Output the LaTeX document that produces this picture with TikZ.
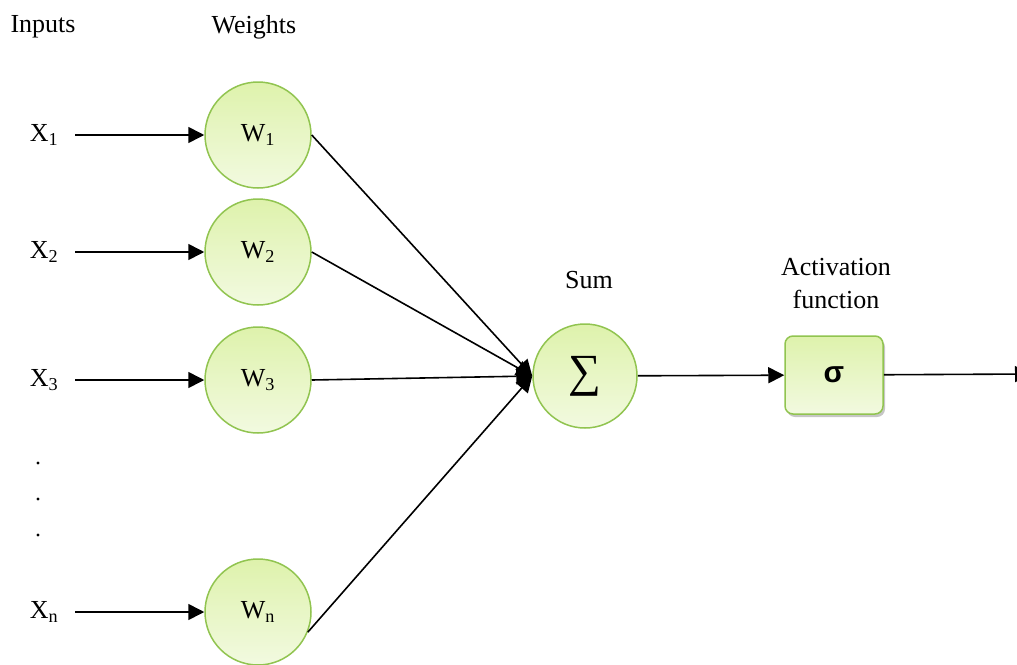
\documentclass[tikz,border=0pt]{standalone}
\usepackage{fontspec}
\setmainfont{Liberation Serif}
\newfontfamily\sigmafont{Liberation Sans}
\usetikzlibrary{arrows.meta,shadows}

\definecolor{wborder}{RGB}{145,196,80}
\definecolor{wtop}{RGB}{222,242,172}
\definecolor{wbottom}{RGB}{242,250,224}

\tikzset{
  weight/.style={circle, draw=wborder, line width=1.5pt, top color=wtop, bottom color=wbottom,
    minimum size=106pt, inner sep=0pt},
  actbox/.style={rectangle, rounded corners=8pt, draw=wborder, line width=1.5pt, top color=wtop,
    bottom color=wbottom, minimum width=98pt, minimum height=78pt,
    drop shadow={shadow xshift=2pt, shadow yshift=-3pt, opacity=0.45}},
}

\begin{document}
\begin{tikzpicture}[x=1pt, y=-1pt, font=\fontsize{26}{30}\selectfont,
  >={Triangle[length=16pt,width=16pt]}, line width=1.6pt]
\useasboundingbox (0,0) rectangle (1017,664);

\node (inputs) at (43,27) {Inputs};
\node (weights) at (254,27) {Weights};

% inputs and weights
\foreach \i/\y in {1/135, 2/252, 3/380, n/612} {
  \node (x\i) at (44,\y) {X\textsubscript{\i}};
  \node[weight] (w\i) at (258,\y) {W\textsubscript{\i}};
  \draw[->] (x\i) ++(31,0) -- (w\i.west);
}
\foreach \y in {463,499,535}
  \fill (38,\y) circle (1.7pt);

% sum
\node[weight, minimum size=104pt] (sum) at (585,376) {\fontsize{46}{46}\selectfont ∑};
\node (sumlabel) at (589,280) {Sum};
\foreach \i in {1,2,3}
  \draw[->] (w\i.east) -- (sum.west);
\draw[->] (wn.-22) -- (sum.west);

% activation
\node[actbox] (act) at (834,375) {\sigmafont\bfseries\fontsize{30}{30}\selectfont σ};
\node[align=center, font=\fontsize{26}{33}\selectfont] (actlabel) at (836,284) {Activation\\function};
\coordinate (out) at (1031,374);
\draw[->] (sum) -- (act);
\draw[->] (act) -- (out);
\end{tikzpicture}
\end{document}
